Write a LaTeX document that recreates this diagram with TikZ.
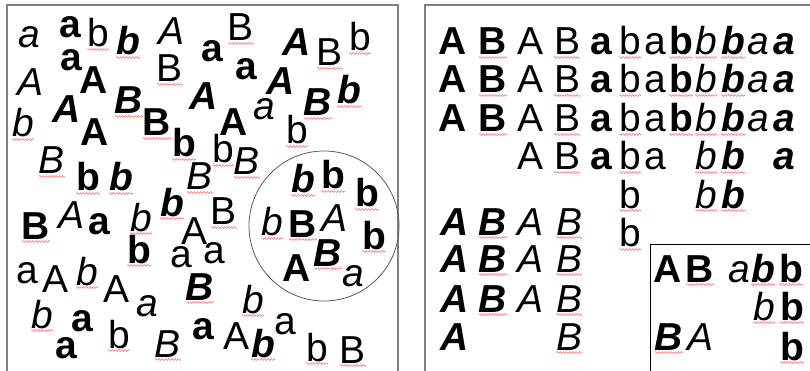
\documentclass[tikz,border=0pt]{standalone}
\usepackage{fontspec}
\setmainfont{Liberation Sans}
\usetikzlibrary{decorations.pathmorphing}
\newcounter{ltc}
\newcommand\Lt[4]{\stepcounter{ltc}\node[#1] (n\arabic{ltc}) at (#2,#3) {#4};}
\tikzset{
  lt/.style={inner sep=0pt, outer sep=0pt, anchor=base, text=black, font=\fontsize{39}{39}\selectfont},
  R/.style={lt},
  Bd/.style={lt, font=\fontsize{39}{39}\selectfont\bfseries},
  It/.style={lt, font=\fontsize{39}{39}\selectfont\itshape},
  BI/.style={lt, font=\fontsize{39}{39}\selectfont\bfseries\itshape},
  squig/.style={draw=red!55, line width=0.6pt, decorate, decoration={snake, amplitude=0.9pt, segment length=3.2pt}},
  sq/.style={append after command={([yshift=-2.5pt]\tikzlastnode.base west) edge[squig] ([yshift=-2.5pt]\tikzlastnode.base east)}},
  frame/.style={draw=black!50, line width=1.6pt},
  ring/.style={draw=black!65, line width=0.8pt},
  boxline/.style={draw=black, line width=0.8pt},
}
\begin{document}
\begin{tikzpicture}[x=1pt,y=-1pt]
\useasboundingbox (0,0) rectangle (810,371);
\clip (0,0) rectangle (810,371);
% frames
\draw[frame] (7,375) -- (7,5) -- (398,5) -- (398,375);
\draw[frame] (425,375) -- (425,5) -- (815,5);
\draw[boxline] (815,244) -- (650,244) -- (650,375);
\draw[ring] (324,226) circle[radius=75pt];
% left panel
\Lt{It}{29}{48}{a}
\Lt{Bd}{70}{38}{a}
\Lt{R,sq}{98}{47}{b}
\Lt{BI,sq}{128}{55}{b}
\Lt{It}{172}{45}{A}
\Lt{R,sq}{170}{82}{B}
\Lt{Bd}{212}{62}{a}
\Lt{R,sq}{241}{41}{B}
\Lt{BI}{297}{56}{A}
\Lt{R,sq}{330}{66}{B}
\Lt{R,sq}{360}{51}{b}
\Lt{It}{31}{96}{A}
\Lt{Bd}{71}{71}{a}
\Lt{Bd}{94}{94}{A}
\Lt{BI,sq}{129}{114}{B}
\Lt{BI}{67}{123}{A}
\Lt{Bd}{246}{80}{a}
\Lt{BI}{281}{95}{A}
\Lt{BI,sq}{318}{116}{B}
\Lt{BI,sq}{349}{104}{b}
\Lt{BI}{204}{110}{A}
\Lt{It,sq}{23}{137}{b}
\Lt{Bd}{95}{146}{A}
\Lt{Bd,sq}{157}{136}{B}
\Lt{Bd,sq}{184}{157}{b}
\Lt{Bd}{234}{136}{A}
\Lt{It}{264}{120}{a}
\Lt{R,sq}{297}{144}{b}
\Lt{It,sq}{52}{174}{B}
\Lt{Bd,sq}{88}{191}{b}
\Lt{BI,sq}{121}{191}{b}
\Lt{R,sq}{223}{163}{b}
\Lt{It,sq}{247}{175}{B}
\Lt{It,sq}{200}{190}{B}
\Lt{BI,sq}{172}{216}{b}
\Lt{It,sq}{141}{231}{b}
\Lt{Bd,sq}{36}{239}{B}
\Lt{It}{72}{229}{A}
\Lt{Bd}{99}{234}{a}
\Lt{R}{195}{244}{A}
\Lt{R,sq}{224}{225}{B}
\Lt{Bd,sq}{139}{263}{b}
\Lt{R}{181}{267}{a}
\Lt{R}{214}{263}{a}
\Lt{BI,sq}{200}{300}{B}
\Lt{R}{27}{283}{a}
\Lt{R}{56}{292}{A}
\Lt{It,sq}{87}{285}{b}
\Lt{R}{117}{302}{A}
\Lt{It}{147}{316}{a}
\Lt{It,sq}{42}{328}{b}
\Lt{Bd}{82}{331}{a}
\Lt{Bd}{66}{358}{a}
\Lt{R,sq}{119}{348}{b}
\Lt{It,sq}{168}{357}{B}
\Lt{Bd}{203}{339}{a}
\Lt{R}{237}{349}{A}
\Lt{BI,sq}{263}{357}{b}
\Lt{R}{285}{334}{a}
\Lt{R,sq}{317}{361}{b}
\Lt{R,sq}{353}{363}{B}
\Lt{It,sq}{253}{313}{b}
% inside the circle
\Lt{BI,sq}{303}{193}{b}
\Lt{Bd,sq}{333}{189}{b}
\Lt{Bd,sq}{367}{207}{b}
\Lt{It,sq}{272}{236}{b}
\Lt{Bd,sq}{303}{237}{B}
\Lt{It}{335}{231}{A}
\Lt{Bd,sq}{374}{249}{b}
\Lt{Bd}{297}{281}{A}
\Lt{BI,sq}{328}{266}{B}
\Lt{It}{353}{286}{a}
% right panel, full rows
\foreach \yy in {55,93,132}{
  \Lt{Bd}{453}{\yy}{A}
  \Lt{Bd,sq}{493}{\yy}{B}
  \Lt{R}{530}{\yy}{A}
  \Lt{R,sq}{567}{\yy}{B}
  \Lt{Bd}{601}{\yy}{a}
  \Lt{R,sq}{630}{\yy}{b}
  \Lt{R}{655}{\yy}{a}
  \Lt{Bd,sq}{681}{\yy}{b}
  \Lt{It,sq}{706}{\yy}{b}
  \Lt{BI,sq}{733}{\yy}{b}
  \Lt{It}{758}{\yy}{a}
  \Lt{BI}{784}{\yy}{a}
}
\Lt{R}{530}{170}{A}
\Lt{R,sq}{567}{170}{B}
\Lt{Bd}{601}{170}{a}
\Lt{R,sq}{630}{170}{b}
\Lt{R}{655}{170}{a}
\Lt{It,sq}{706}{170}{b}
\Lt{BI,sq}{733}{170}{b}
\Lt{BI}{784}{170}{a}
\Lt{R,sq}{630}{208}{b}
\Lt{It,sq}{706}{208}{b}
\Lt{BI,sq}{733}{208}{b}
\Lt{R,sq}{630}{247}{b}
% italic block
\foreach \yy in {235,272,312}{
  \Lt{BI}{455}{\yy}{A}
  \Lt{BI,sq}{493}{\yy}{B}
  \Lt{It}{530}{\yy}{A}
  \Lt{It,sq}{569}{\yy}{B}
}
\Lt{BI}{455}{350}{A}
\Lt{It,sq}{569}{350}{B}
% inner box
\Lt{Bd}{668}{282}{A}
\Lt{Bd,sq}{700}{282}{B}
\Lt{It}{739}{282}{a}
\Lt{BI,sq}{763}{282}{b}
\Lt{Bd,sq}{791}{282}{b}
\Lt{It,sq}{764}{320}{b}
\Lt{Bd,sq}{792}{320}{b}
\Lt{BI,sq}{669}{350}{B}
\Lt{It}{700}{350}{A}
\Lt{Bd,sq}{792}{360}{b}
\end{tikzpicture}
\end{document}
